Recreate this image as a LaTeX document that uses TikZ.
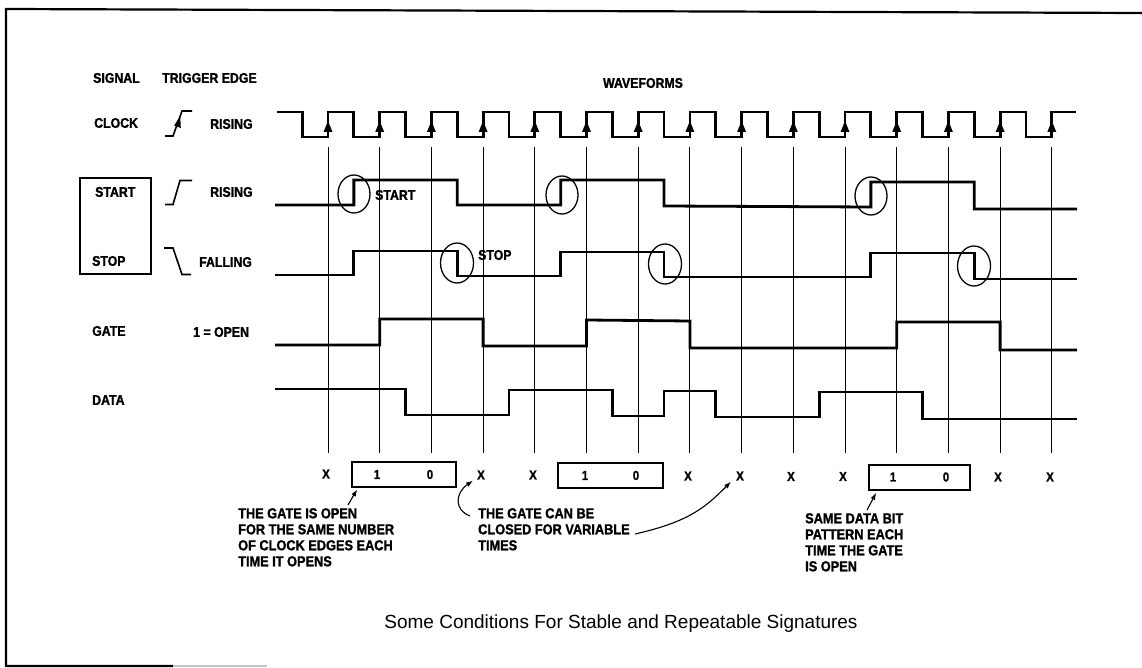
\documentclass[tikz,border=0pt]{standalone}
\usepackage{fontspec}
\setmainfont{Liberation Sans}
\newfontfamily\lbl[FakeStretch=0.88, BoldFeatures={FakeBold=1.3}]{Liberation Sans}
\usetikzlibrary{arrows.meta,calc}
\begin{document}
\begin{tikzpicture}[x=1pt,y=-1pt,
  lf/.style={font=\lbl\bfseries\fontsize{14}{16}\selectfont, inner sep=0pt},
  af/.style={font=\lbl\bfseries\fontsize{14.5}{16}\selectfont, inner sep=0pt, align=left, anchor=north west},
  bf/.style={font=\lbl\bfseries\fontsize{13}{15}\selectfont, inner sep=0pt},
  wave/.style={line width=2.8pt},
  gridline/.style={line width=1pt},
  ring/.style={line width=1.3pt},
  bitbox/.style={draw, line width=1.7pt, minimum height=25pt, inner sep=0pt},
  arr/.style={line width=1.1pt, -{Latex[length=7pt,width=5pt]}},
  frame/.style={line width=2.2pt}]
\fill[white] (0,0) rectangle (1142,668);
\useasboundingbox (0,0) rectangle (1142,668);

% frame
\draw[frame] (1142,13) -- (6,9) -- (6,666) -- (173,666);
\draw[gray!45, line width=1.5pt] (173,666) -- (267,666);

% column headings and signal names
\node[lf,anchor=west] (sig) at (93,78) {SIGNAL};
\node[lf,anchor=west] (trig) at (162,78) {TRIGGER EDGE};
\node[lf] (wav) at (643,83) {WAVEFORMS};
\node[lf,anchor=west] (clk) at (94,123) {CLOCK};
\node[lf,anchor=west] (clkr) at (210,124) {RISING};
\node[lf,anchor=west] (sta) at (95,192) {START};
\node[lf,anchor=west] (star) at (210,192) {RISING};
\node[lf,anchor=west] (sto) at (92,261) {STOP};
\node[lf,anchor=west] (stof) at (199,262) {FALLING};
\node[lf,anchor=west] (gat) at (92,331) {GATE};
\node[lf,anchor=west] (gato) at (193,332) {1 = OPEN};
\node[lf,anchor=west] (dat) at (92,400) {DATA};
\node[draw, line width=1.3pt, minimum width=71pt, minimum height=96pt, inner sep=0pt] (ssbox) at (115.5,226) {};

% trigger edge symbols
\draw[line width=1.6pt] (165,136) -- (173,136) -- (182,111) -- (192,111);
\fill (180.2,116) -- (174.2,125.5) -- (180.8,128) -- cycle;
\draw[line width=1.6pt] (165,204.5) -- (173,204.5) -- (180,180.5) -- (192,180.5);
\draw[line width=1.6pt] (164,248) -- (173,248) -- (182,274.5) -- (191,274.5);

% grid lines at rising clock edges
\foreach \k in {0,...,14} \draw[gridline] ({328+51.7*\k},147) -- ({328+51.7*\k},453);

% clock
\draw[wave] (277,112) -- (302.15,112) -- (302.15,137)
  foreach \k in {0,...,13} { -- ({328+51.7*\k},137) -- ({328+51.7*\k},112) -- ({353.85+51.7*\k},112) -- ({353.85+51.7*\k},137) }
  -- (1051.8,137) -- (1051.8,112) -- (1076,112);
\foreach \k in {0,...,14} \fill ({328+51.7*\k},121) -- ({323.5+51.7*\k},132) -- ({332.5+51.7*\k},132) -- cycle;

% start
\draw[wave] (275,205) -- (353.85,205) -- (353.85,180) -- (457.25,180) -- (457.25,205)
  -- (560.65,205) -- (560.65,180) -- (664.05,180) -- (664.05,206) -- (870.85,207)
  -- (870.85,182) -- (974.25,182) -- (974.25,209) -- (1077,209);
% stop
\draw[wave] (275,275) -- (353.85,275) -- (353.85,251) -- (457.25,251) -- (457.25,276)
  -- (560.65,276) -- (560.65,252) -- (664.05,252) -- (664.05,277) -- (870.85,277)
  -- (870.85,253) -- (974.25,253) -- (974.25,279) -- (1077,279);
% gate
\draw[wave] (275,345) -- (379.7,345) -- (379.7,319) -- (483.1,319) -- (483.1,346)
  -- (586.5,346) -- (586.5,320) -- (689.9,321) -- (689.9,348) -- (896.7,348)
  -- (896.7,322) -- (1000.1,322) -- (1000.1,350) -- (1077,350);
% data
\draw[wave] (275,389) -- (405.55,389) -- (405.55,415) -- (508.95,415) -- (508.95,390)
  -- (612.35,390) -- (612.35,416) -- (664.05,416) -- (664.05,391) -- (715.75,391)
  -- (715.75,417) -- (819.15,417) -- (819.15,392) -- (922.55,392) -- (922.55,419) -- (1077,419);

% circled edges
\draw[ring] (354,194) ellipse [x radius=16, y radius=19];
\draw[ring] (562,195) ellipse [x radius=16, y radius=19];
\draw[ring] (871,196) ellipse [x radius=16, y radius=19];
\draw[ring] (457,263) ellipse [x radius=16.5, y radius=20];
\draw[ring] (665,264) ellipse [x radius=16.5, y radius=20];
\draw[ring] (974,266) ellipse [x radius=16.5, y radius=20];
\node[lf,anchor=west] (lstart) at (375,195) {START};
\node[lf,anchor=west] (lstop) at (478,255) {STOP};

% bit row
\node[bf] (x0) at (326,474) {X};
\node[bitbox, minimum width=104pt] (box1) at (404,474.5) {};
\node[bf] (b11) at (377,474.5) {1};
\node[bf] (b10) at (430,474.5) {0};
\node[bf] (x3) at (481,475) {X};
\node[bf] (x4) at (533,475) {X};
\node[bitbox, minimum width=105pt] (box2) at (610.5,475.5) {};
\node[bf] (b21) at (585,475.5) {1};
\node[bf] (b20) at (636,475.5) {0};
\node[bf] (x7) at (688,476) {X};
\node[bf] (x8) at (740,476) {X};
\node[bf] (x9) at (791,476.5) {X};
\node[bf] (x10) at (843,476.5) {X};
\node[bitbox, minimum width=101pt] (box3) at (919.5,477.5) {};
\node[bf] (b31) at (893,477) {1};
\node[bf] (b30) at (946,477) {0};
\node[bf] (x13) at (998,477) {X};
\node[bf] (x14) at (1050,477) {X};

% annotations
\node[af] (ann1) at (238,508) {THE GATE IS OPEN\\FOR THE SAME NUMBER\\OF CLOCK EDGES EACH\\TIME IT OPENS};
\node[af] (ann2) at (478,508) {THE GATE CAN BE\\CLOSED FOR VARIABLE\\TIMES};
\node[af] (ann3) at (805,513) {SAME DATA BIT\\PATTERN EACH\\TIME THE GATE\\IS OPEN};
\coordinate (a1s) at (348,505);
\coordinate (a2s) at (470,516);
\coordinate (a3s) at (635,534);
\coordinate (a4s) at (867,510);
\draw[arr] (a1s) -- ([xshift=6pt,yshift=-1.5pt]box1.south west);
\draw[arr] (a2s) .. controls (454,510) and (455,493) .. ([xshift=-4pt,yshift=-1pt]x3.south west);
\draw[arr] (a3s) .. controls (688,522) and (705,508) .. ([xshift=-5pt,yshift=-1pt]x8.south west);
\draw[arr] (a4s) -- ([xshift=8pt,yshift=-2pt]box3.south west);

% caption
\node[anchor=base, font=\fontsize{19}{22}\selectfont] (cap) at (621,628) {Some Conditions For Stable and Repeatable Signatures};
\end{tikzpicture}
\end{document}
